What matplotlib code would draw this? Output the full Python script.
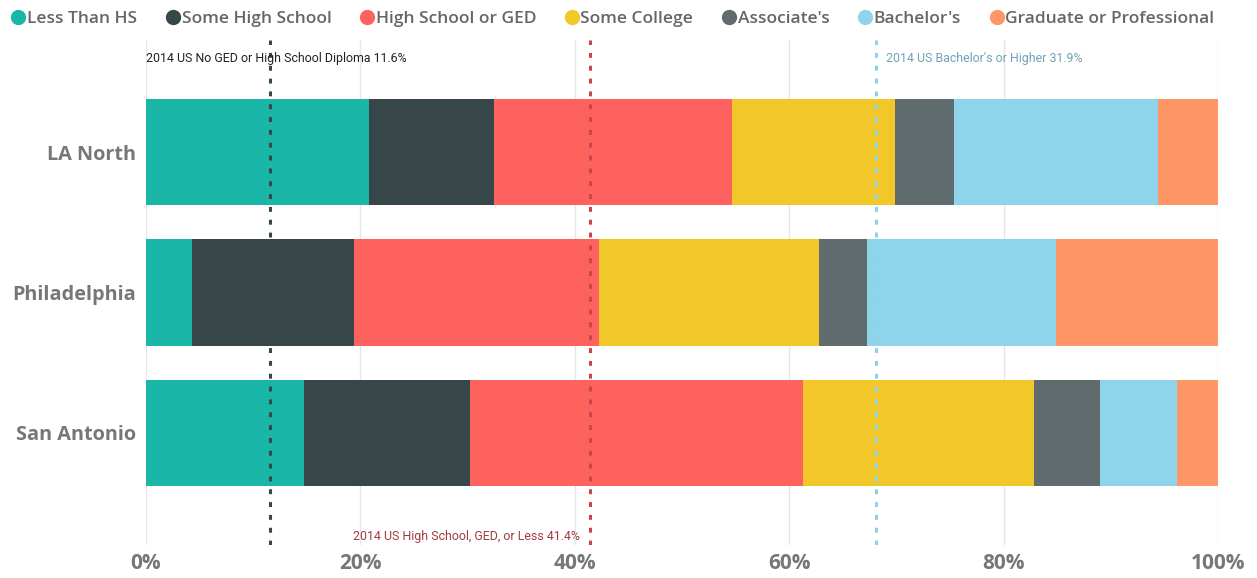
import matplotlib
matplotlib.use('Agg')
from matplotlib import pyplot as plt
from matplotlib.lines import Line2D

regions = ['LA North', 'Philadelphia', 'San Antonio']
levels = ['Less Than HS', 'Some High School', 'High School or GED', 'Some College',
          "Associate's", "Bachelor's", 'Graduate or Professional']
colors = ['#1AB7A9', '#374649', '#FD625E', '#F2C72A', '#5F6B6D', '#8ED5EB', '#FE9666']

# share of population (%) per education level, one list per region
la_north = [20.8, 11.7, 22.2, 15.2, 5.5, 19.0, 5.6]
philadelphia = [4.3, 15.1, 22.9, 20.5, 4.5, 17.6, 15.1]
san_antonio = [14.7, 15.5, 31.1, 21.5, 6.2, 7.2, 3.8]
shares = [la_north, philadelphia, san_antonio]

# 2014 US reference values
us_no_hs = 11.6
us_hs_or_less = 41.4
us_bachelor_plus = 31.9

x_ticks = [0, 20, 40, 60, 80, 100]

fig = plt.figure(figsize=(12.57, 5.78), dpi=100)
ax = fig.add_axes([146 / 1257, 33 / 578, 1072 / 1257, 505 / 578])

for i, name in enumerate(regions):
    left = 0
    for j, level in enumerate(levels):
        ax.barh(i, shares[i][j], left=left, height=0.757, color=colors[j], zorder=2)
        left += shares[i][j]

# reference lines
line_style = dict(linewidth=2.2, dashes=(1.6, 2.6), zorder=3)
ax.axvline(us_no_hs, color='#374649', **line_style)
ax.axvline(us_hs_or_less, color='#C9454A', **line_style)
ax.axvline(100 - us_bachelor_plus, color='#8AD4EB', **line_style)

ref_font = dict(family='Roboto', fontsize=8.9)
ax.text(0, -0.665, f'2014 US No GED or High School Diploma {us_no_hs}%',
        color='#222222', ha='left', va='center', **ref_font)
ax.text(us_hs_or_less - 0.9, 2.74, f'2014 US High School, GED, or Less {us_hs_or_less}%',
        color='#A33B3E', ha='right', va='center', **ref_font)
ax.text(100 - us_bachelor_plus + 0.9, -0.665, f"2014 US Bachelor's or Higher {us_bachelor_plus}%",
        color='#6FA3B5', ha='left', va='center', **ref_font)

ax.set_xlim(0, 100)
ax.set_ylim(2.8, -0.8)
ax.set_xticks(x_ticks)
ax.set_xticklabels([f'{t}%' for t in x_ticks])
ax.set_yticks(range(len(regions)))
ax.set_yticklabels(regions)
ax.tick_params(length=0, labelcolor='#777777')
ax.tick_params(axis='x', pad=6, labelsize=15)
ax.tick_params(axis='y', pad=7, labelsize=14.3)
for lbl in ax.get_xticklabels() + ax.get_yticklabels():
    lbl.set_fontfamily('Open Sans')
    lbl.set_fontweight('bold')
ax.grid(axis='x', color='#E6E6E6', linewidth=1, zorder=0)
ax.set_axisbelow(True)
for s in ax.spines.values():
    s.set_visible(False)

handles = [Line2D([], [], marker='o', linestyle='', markersize=10, color=c) for c in colors]
fig.legend(handles, levels, loc='upper left', bbox_to_anchor=(-0.006, 1.008), ncol=7,
           frameon=False, handletextpad=-0.1, columnspacing=1.45, handlelength=1.2,
           prop=dict(family='Open Sans', weight='semibold', size=12.5),
           labelcolor='#666666')

fig.savefig('out.png', dpi=100)
